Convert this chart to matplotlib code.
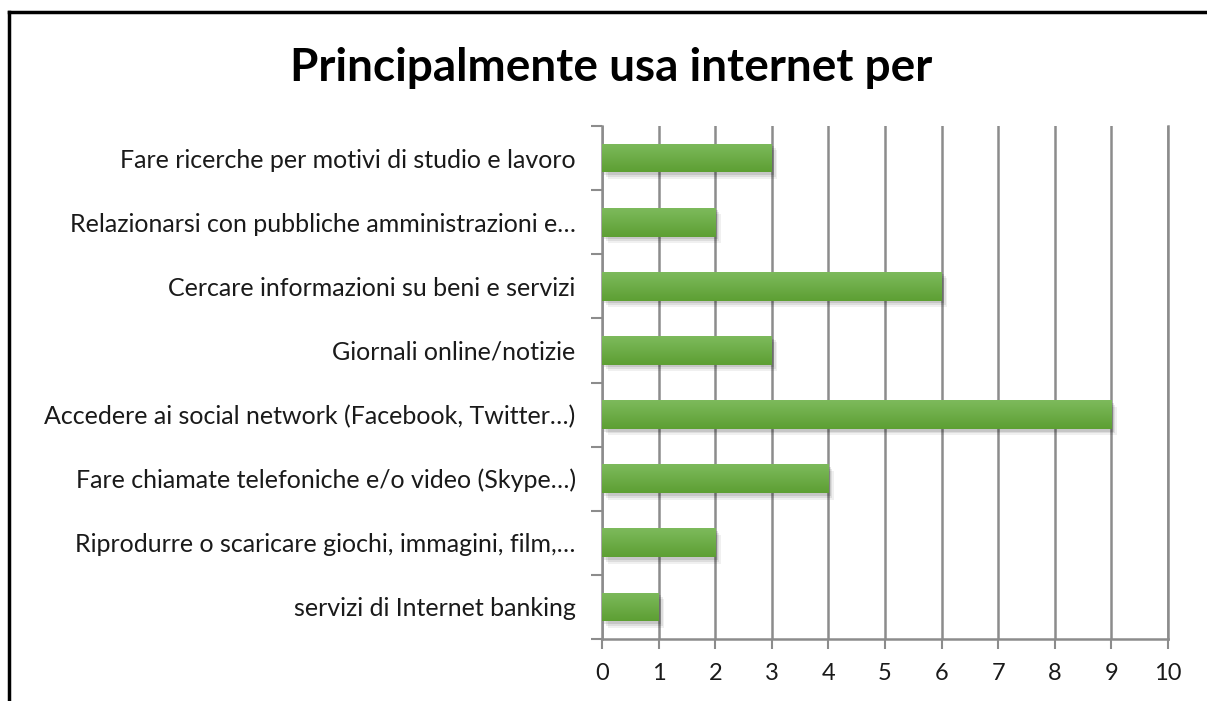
import matplotlib
matplotlib.use('Agg')
import matplotlib.pyplot as plt
import numpy as np
from matplotlib.lines import Line2D

# data, top to bottom
categories = [
    'Fare ricerche per motivi di studio e lavoro',
    'Relazionarsi con pubbliche amministrazioni e…',
    'Cercare informazioni su beni e servizi',
    'Giornali online/notizie',
    'Accedere ai social network (Facebook, Twitter…)',
    'Fare chiamate telefoniche e/o video (Skype…)',
    'Riprodurre o scaricare giochi, immagini, film,…',
    'servizi di Internet banking',
]
values = [3, 2, 6, 3, 9, 4, 2, 1]
x_ticks = list(range(0, 11))

plt.rcParams['font.family'] = ['Lato', 'DejaVu Sans']

fig = plt.figure(figsize=(12.07, 7.01), dpi=100)
ax = fig.add_axes([0.4988, 0.0884, 0.9677 - 0.4988, 0.8203 - 0.0884])

n = len(categories)
ypos = np.arange(n)[::-1]
bar_h = 0.45

# soft drop shadow behind each bar
for k, a in enumerate([0.10, 0.08, 0.06]):
    ax.barh(ypos - 0.04 - 0.03 * k, values, height=bar_h, left=0.04 + 0.03 * k,
            color='#000000', alpha=a, zorder=2, linewidth=0)
bars = ax.barh(ypos, values, height=bar_h, color='#6aac45', zorder=3, linewidth=0)

# vertical gradient on each bar (lighter top, darker bottom)
grad = np.linspace(0, 1, 64).reshape(-1, 1)
cmap = matplotlib.colors.LinearSegmentedColormap.from_list('g', ['#5d9f33', '#7dba5c'])
for b in bars:
    x0, y0 = b.get_x(), b.get_y()
    w, h = b.get_width(), b.get_height()
    im = ax.imshow(grad, cmap=cmap, aspect='auto', origin='lower',
                   extent=[x0, x0 + w, y0, y0 + h], zorder=4)
    im.set_clip_path(b)

ax.set_xlim(0, 10)
ax.set_ylim(-0.5, n - 0.5)
ax.set_xticks(x_ticks)
ax.set_xticklabels([str(t) for t in x_ticks], fontsize=17, color='#1a1a1a')

ax.set_yticks(ypos)
ax.set_yticklabels(categories, fontsize=18, color='#1a1a1a')
ax.tick_params(axis='y', length=0, pad=19)
# category boundary ticks on the left
ax.set_yticks(np.arange(-0.5, n, 1.0), minor=True)
ax.tick_params(axis='y', which='minor', length=8, width=1.5, color='#8c8c8c', direction='out')
ax.tick_params(axis='x', length=7, width=1.5, color='#8c8c8c', direction='out', pad=10)

ax.grid(axis='x', color='#8c8c8c', linewidth=1.8, zorder=1)
ax.set_axisbelow(True)
ax.spines['top'].set_visible(False)
for s in ['left', 'bottom', 'right']:
    ax.spines[s].set_color('#8c8c8c')
    ax.spines[s].set_linewidth(1.8)

fig.text(0.506, 0.903, 'Principalmente usa internet per', fontsize=33, fontweight='bold',
         ha='center', va='center', color='#000000')

# black frame (left and top only, as in the source screenshot)
fig.add_artist(Line2D([9 / 1207, 9 / 1207], [0, 1 - 12 / 701], color='black', linewidth=2.5,
                      transform=fig.transFigure))
fig.add_artist(Line2D([9 / 1207, 1], [1 - 12 / 701, 1 - 12 / 701], color='black', linewidth=2.5,
                      transform=fig.transFigure))

fig.savefig('out.png', dpi=100, facecolor='white')
